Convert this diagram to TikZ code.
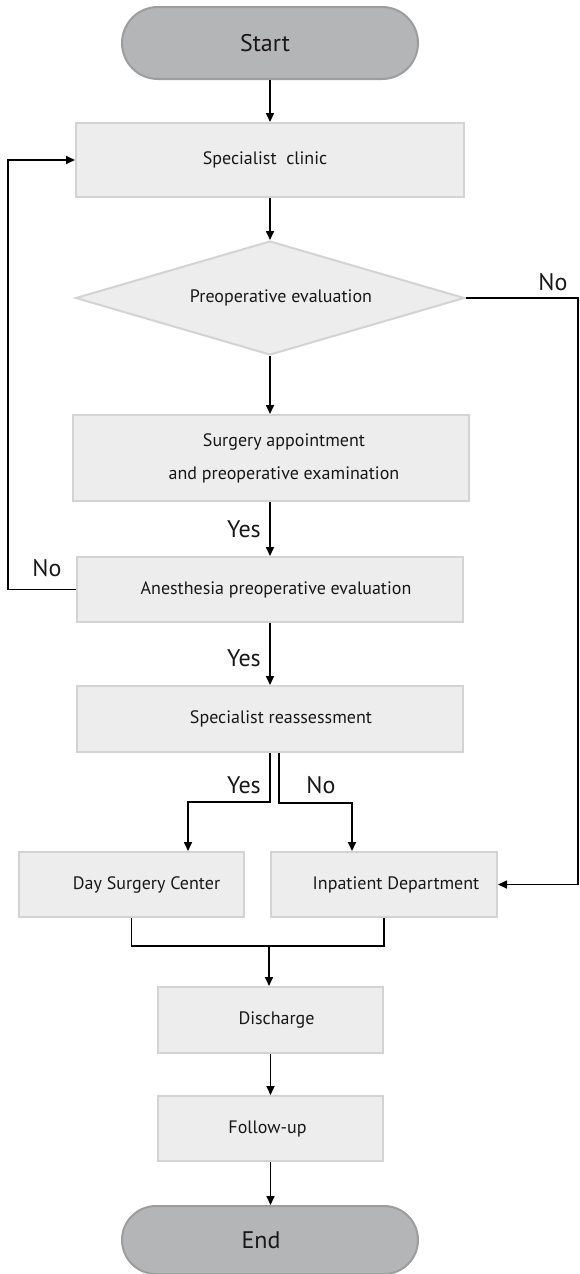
\documentclass[tikz,border=0pt]{standalone}
\usepackage{fontspec}
\setmainfont{PT Sans}
\usetikzlibrary{arrows.meta,shapes.geometric,shapes.misc}
\definecolor{boxfill}{HTML}{EDEDED}
\definecolor{boxline}{HTML}{D3D3D3}
\definecolor{termfill}{HTML}{B4B5B7}
\definecolor{termline}{HTML}{9C9D9F}
\definecolor{ink}{HTML}{1A1718}
\tikzset{
  proc/.style={rectangle, draw=boxline, fill=boxfill, line width=2pt, inner sep=0pt, text=ink, font=\fontsize{18}{21}\selectfont, align=center},
  term/.style={rounded rectangle, draw=termline, fill=termfill, line width=2pt, minimum width=296pt, inner sep=0pt, text=ink, font=\fontsize{24}{27}\selectfont},
  decis/.style={diamond, draw=boxline, fill=boxfill, line width=2pt, inner sep=0pt, aspect=3.4, text=ink, font=\fontsize{18}{21}\selectfont},
  lab/.style={text=ink, font=\fontsize{24}{27}\selectfont, inner sep=0pt},
  arr/.style={line width=1.6pt, -{Triangle[length=9pt,width=8pt]}},
  conn/.style={line width=1.6pt}
}
\newcommand{\sh}[2]{\hspace*{#1pt}#2}
\begin{document}
\begin{tikzpicture}[x=1pt,y=-1pt]
\useasboundingbox (0,0) rectangle (580,1274);
\node[term, minimum height=72pt] (start) at (270,43) {\sh{-10}{Start}};
\node[proc, minimum width=388pt, minimum height=74pt] (clinic) at (270,160) {\sh{-10}{Specialist\ \ clinic}};
\node[decis, minimum width=389pt, minimum height=114pt] (diam) at (270,298) {\sh{22}{Preoperative evaluation}};
\node[proc, minimum width=396pt, minimum height=86pt] (surg) at (271,458) {\sh{26}{Surgery appointment}\\[12pt]\sh{26}{and preoperative examination}};
\node[proc, minimum width=386pt, minimum height=65pt] (anes) at (270,589.5) {\sh{12}{Anesthesia preoperative evaluation}};
\node[proc, minimum width=386pt, minimum height=66pt] (reass) at (270,719) {\sh{22}{Specialist reassessment}};
\node[proc, minimum width=225pt, minimum height=65pt] (day) at (131.5,884.5) {\sh{30}{Day Surgery Center}};
\node[proc, minimum width=226pt, minimum height=65pt] (inpat) at (384,884.5) {\sh{24}{Inpatient Department}};
\node[proc, minimum width=225pt, minimum height=66pt] (disch) at (270.5,1020) {\sh{12}{Discharge}};
\node[proc, minimum width=225pt, minimum height=65pt] (follow) at (270.5,1128.5) {\sh{-6}{Follow-up}};
\node[term, minimum height=68pt] (end) at (270,1240) {\sh{-18}{End}};
\coordinate (lx) at (8,0);
\coordinate (rx) at (578,0);
\coordinate (m) at (269,946);
% main flow
\draw[arr] (start) -- (clinic);
\draw[arr] (clinic.south) -- (clinic.south |- diam.north);
\draw[arr] (diam.south) -- (diam.south |- surg.north);
\draw[arr] (surg.south -| diam.south) -- (diam.south |- anes.north);
\draw[arr] (anes.south) -- (reass.north);
% loops
\draw[arr] (anes.west) -- (anes.west -| lx) |- (clinic.west);
\draw[arr] (diam.east) -- (diam.east -| rx) |- (inpat.east);
% split
\draw[arr] (reass.south) -- ++(0,49) -| ([xshift=56.5pt]day.north);
\draw[arr] ([xshift=9pt]reass.south) -- ++(0,50) -| ([xshift=-32pt]inpat.north);
% merge
\draw[conn] (day.south) |- (m) -| (inpat.south);
\draw[arr] (m) -- (m |- disch.north);
\draw[arr] (disch) -- (follow);
\draw[arr] (follow.south) -- (follow.south |- end.north);
% labels
\node[lab] (no1) at (553,282) {No};
\node[lab] (yes1) at (244,529) {Yes};
\node[lab] (no2) at (47,568) {No};
\node[lab] (yes2) at (244,658) {Yes};
\node[lab] (yes3) at (244,785) {Yes};
\node[lab] (no3) at (321,785) {No};
\end{tikzpicture}
\end{document}
